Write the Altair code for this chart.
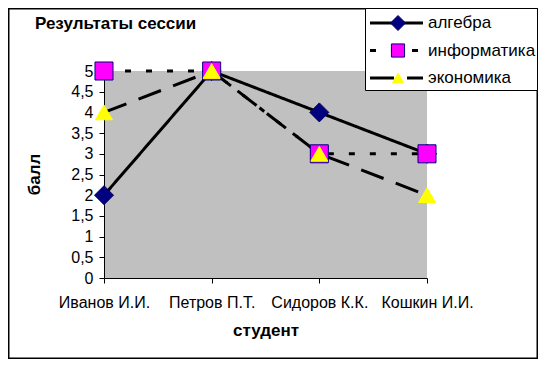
import altair as alt
import pandas as pd

students = ["Иванов И.И.", "Петров П.Т.", "Сидоров К.К.", "Кошкин И.И."]
series = ["алгебра", "информатика", "экономика"]
algebra = [2, 5, 4, 3]
informatics = [5, 5, 3, 3]
economics = [4, 5, 3, 2]
y_ticks = [0, 0.5, 1, 1.5, 2, 2.5, 3, 3.5, 4, 4.5, 5]

FONT = "Liberation Sans"

rows = []
for name, vals in zip(series, [algebra, informatics, economics]):
    for s, v in zip(students, vals):
        rows.append({"student": s, "series": name, "score": v})
df = pd.DataFrame(rows)
leg = pd.DataFrame({"series": series, "i": list(range(len(series)))})

dash_scale = alt.Scale(domain=series, range=[[1, 0], [6, 15], [24, 13]])
shape_scale = alt.Scale(domain=series, range=["diamond", "square", "triangle-up"])
fill_scale = alt.Scale(domain=series, range=["#000080", "#FF00FF", "#FFFF00"])
stroke_scale = alt.Scale(domain=series, range=["#000060", "#000080", "#FFFF00"])

x_enc = alt.X("student:N", sort=students, scale=alt.Scale(domain=students, padding=0),
              axis=alt.Axis(title="студент", labelAngle=0, labelFontSize=16, labelFont=FONT,
                            labelColor="black", tickColor="black", domainColor="black",
                            tickSize=5, labelPadding=11, titleFontSize=17, titleFont=FONT,
                            titleFontWeight="bold", titleColor="black", titleY=57,
                            titleBaseline="alphabetic", grid=False))
y_enc = alt.Y("score:Q", scale=alt.Scale(domain=[0, 5], nice=False),
              axis=alt.Axis(title="балл", values=y_ticks,
                            labelExpr="replace(toString(datum.value), '.', ',')",
                            labelFontSize=16, labelFont=FONT, labelColor="black",
                            tickColor="black", domainColor="black", tickSize=5,
                            labelPadding=6, titleFontSize=17, titleFont=FONT,
                            titleFontWeight="bold", titleColor="black", titleX=-70,
                            titleY=103, titleAngle=-90, titleAlign="center",
                            titleBaseline="middle", grid=False))

base = alt.Chart(df)
lines = base.mark_line(color="black", strokeWidth=3).encode(
    x=x_enc, y=y_enc, detail="series:N",
    strokeDash=alt.StrokeDash("series:N", scale=dash_scale, legend=None),
)
points = base.mark_point(filled=True, opacity=1, strokeWidth=1).encode(
    x=x_enc, y=y_enc,
    shape=alt.Shape("series:N", scale=shape_scale, legend=None),
    fill=alt.Fill("series:N", scale=fill_scale, legend=None),
    stroke=alt.Stroke("series:N", scale=stroke_scale, legend=None),
    size=alt.Size("series:N", scale=alt.Scale(domain=series, range=[361, 289, 441]), legend=None),
    order=alt.Order("series:N"),
)

title = alt.Chart(pd.DataFrame({"t": ["Результаты сессии"]})).mark_text(
    align="left", baseline="alphabetic", fontSize=17, fontWeight="bold", font=FONT, color="black"
).encode(x=alt.value(-69), y=alt.value(-42), text="t:N")

border = alt.Chart(pd.DataFrame({"a": [0]})).mark_rect(
    fill=None, stroke="black", strokeWidth=1.5
).encode(x=alt.value(-95.25), x2=alt.value(433.25), y=alt.value(-62.25), y2=alt.value(287.25))

legbox = alt.Chart(pd.DataFrame({"a": [0]})).mark_rect(
    fill="white", stroke="black", strokeWidth=1
).encode(x=alt.value(261.5), x2=alt.value(433.5), y=alt.value(-62.5), y2=alt.value(19.5))

lbase = alt.Chart(leg).transform_calculate(ly="-48 + 27.5 * datum.i")
lrule = lbase.mark_rule(color="black", strokeWidth=3).encode(
    x=alt.value(266), x2=alt.value(319),
    y=alt.Y("ly:Q", scale=None, axis=None),
    strokeDash=alt.StrokeDash("series:N", scale=dash_scale, legend=None),
)
lpoint = lbase.mark_point(filled=True, opacity=1, strokeWidth=1).encode(
    x=alt.value(294),
    y=alt.Y("ly:Q", scale=None, axis=None),
    shape=alt.Shape("series:N", scale=shape_scale, legend=None),
    fill=alt.Fill("series:N", scale=fill_scale, legend=None),
    stroke=alt.Stroke("series:N", scale=stroke_scale, legend=None),
    size=alt.Size("series:N", scale=alt.Scale(domain=series, range=[225, 121, 196]), legend=None),
)
ltext = lbase.mark_text(align="left", baseline="middle", fontSize=17, font=FONT, color="black").encode(
    x=alt.value(324),
    y=alt.Y("ly:Q", scale=None, axis=None),
    text="series:N",
)

chart = alt.layer(lines, points, border, title, legbox, lrule, lpoint, ltext).resolve_scale(
    size="independent"
).properties(
    width=323, height=207,
    autosize=alt.AutoSizeParams(type="none"),
    padding={"left": 96, "top": 63, "right": 111, "bottom": 81},
    background="white",
).configure_view(fill="#C0C0C0", stroke=None)

chart.save("out.html", embed_options={"renderer": "svg", "actions": False})
